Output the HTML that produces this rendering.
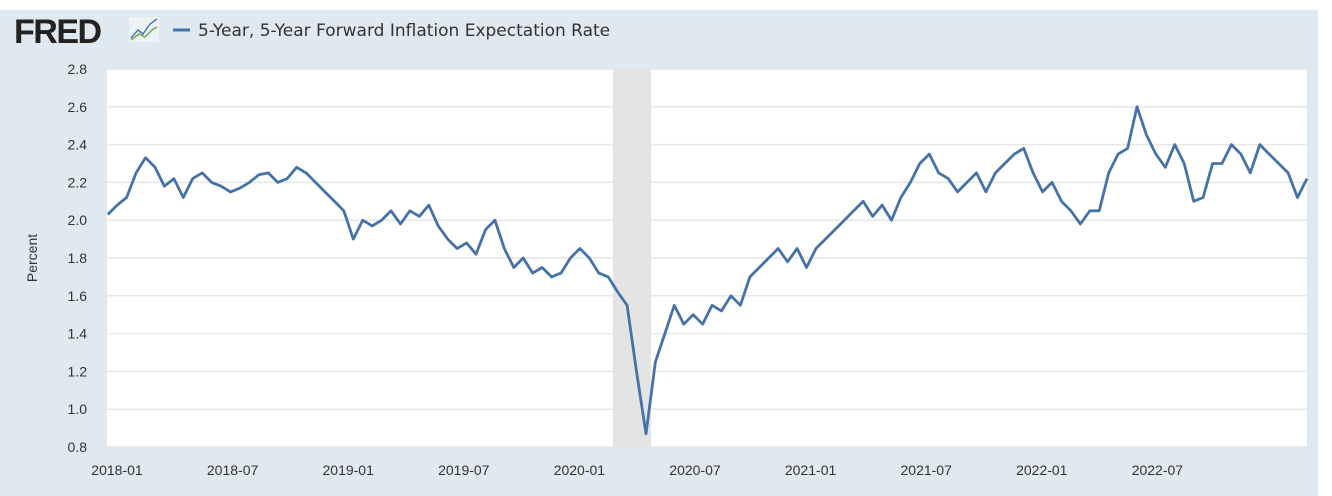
<!DOCTYPE html>
<html><head><meta charset="utf-8"><style>
body{margin:0;background:#fff;font-family:"Liberation Sans",sans-serif}
#wrap{position:absolute;left:0;top:10px;width:1318px;height:486px;background:#e1e9f0}
</style></head><body>
<div id="wrap"></div>
<svg id="chart" width="1332" height="496" style="position:absolute;left:0;top:0">
<text x="14" y="43" font-size="34" font-weight="bold" fill="#222" font-family="Liberation Sans,sans-serif" letter-spacing="-1.5">FRED</text>
<g><rect x="129" y="17" width="30" height="25" fill="#eef2f5"/><polyline points="131,38 138,30 143,34 150,24 157,19" fill="none" stroke="#4a78b0" stroke-width="1.5"/><polyline points="131,40 139,34 145,37 152,30 157,27" fill="none" stroke="#6aab4a" stroke-width="1.5"/></g>
<line x1="173" y1="30" x2="190" y2="30" stroke="#4572a7" stroke-width="3"/>
<text x="198" y="36" font-size="17" fill="#333" font-family="DejaVu Sans,sans-serif">5-Year, 5-Year Forward Inflation Expectation Rate</text>
<rect x="107" y="69" width="1200" height="378" fill="#fff"/>
<g id="grid"></g><g id="rec"></g><g id="yt"></g><g id="xt"></g>
<text transform="translate(37,258) rotate(-90)" text-anchor="middle" font-size="14" fill="#333">Percent</text>
<path id="line" fill="none" stroke="#4572a7" stroke-width="2.8" stroke-linejoin="round"/>
</svg>
<script>
const yTicks=[0.8,1.0,1.2,1.4,1.6,1.8,2.0,2.2,2.4,2.6,2.8];
const xTickLabels=["2018-01","2018-07","2019-01","2019-07","2020-01","2020-07","2021-01","2021-07","2022-01","2022-07"];
const xTickYears=[2018.0,2018.5,2019.0,2019.5,2020.0,2020.5,2021.0,2021.5,2022.0,2022.5];
const recession=[2020.145,2020.31];
const startYear=2017.96;
const endYear=2023.147;
const values=[2.03,2.08,2.12,2.25,2.33,2.28,2.18,2.22,2.12,2.22,2.25,2.2,2.18,2.15,2.17,2.2,2.24,2.25,2.2,2.22,2.28,2.25,2.2,2.15,2.1,2.05,
1.9,2.0,1.97,2.0,2.05,1.98,2.05,2.02,2.08,1.97,1.9,1.85,1.88,1.82,1.95,2.0,1.85,1.75,1.8,1.72,1.75,1.7,1.72,1.8,
1.85,1.8,1.72,1.7,1.62,1.55,1.2,0.87,1.25,1.4,1.55,1.45,1.5,1.45,1.55,1.52,1.6,1.55,1.7,1.75,1.8,1.85,1.78,1.85,1.75,1.85,1.9,1.95,
2.0,2.05,2.1,2.02,2.08,2.0,2.12,2.2,2.3,2.35,2.25,2.22,2.15,2.2,2.25,2.15,2.25,2.3,2.35,2.38,2.25,2.15,2.2,2.1,
2.05,1.98,2.05,2.05,2.25,2.35,2.38,2.6,2.45,2.35,2.28,2.4,2.3,2.1,2.12,2.3,2.3,2.4,2.35,2.25,2.4,2.35,2.3,2.25,2.12,2.22];
const L=107,R=1307,T=69,B=447;
const X=t=>117+(t-2018)*231.2;
const Y=v=>B-(v-0.8)/2.0*(B-T);
const ns="http://www.w3.org/2000/svg";
function mk(tag,attrs,parent,txt){const e=document.createElementNS(ns,tag);for(const k in attrs)e.setAttribute(k,attrs[k]);if(txt)e.textContent=txt;document.getElementById(parent).appendChild(e);return e;}
yTicks.forEach(v=>{
 const g=mk('line',{x1:L,x2:R,y1:Y(v),y2:Y(v),stroke:'#e6e6e6','stroke-width':1.5},'grid');
 
 
 const t=mk('text',{x:87,y:Y(v)+5,'text-anchor':'end','font-size':14,fill:'#333'},'yt',v.toFixed(1));
 
 
});
const r=mk('rect',{x:X(recession[0]),y:T,width:X(recession[1])-X(recession[0]),height:B-T,fill:'#e4e4e4'},'rec');


xTickLabels.forEach((s,i)=>{
 const t=mk('text',{x:X(xTickYears[i]),y:475,'text-anchor':'middle','font-size':14,fill:'#333'},'xt',s);
 
 
});
const n=values.length;
let d='';
values.forEach((v,i)=>{const t=startYear+(endYear-startYear)*i/(n-1);d+=(i?'L':'M')+Math.min(R,X(t)).toFixed(1)+','+Y(v).toFixed(1);});
document.getElementById('line').setAttribute('d',d);
</script>
</body></html>
